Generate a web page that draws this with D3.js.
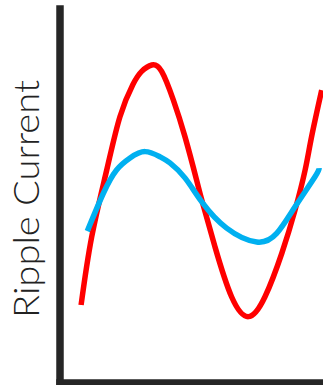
<!DOCTYPE html>
<html>
<head>
<meta charset="utf-8">
<script src="https://cdn.jsdelivr.net/npm/d3@7"></script>
<style>
  html, body { margin: 0; padding: 0; background: #fff; }
  svg { display: block; }
</style>
</head>
<body>
<svg id="chart" width="323" height="385"></svg>
<script>
// Time positions (arbitrary units 0..100) and current values (0..100)
const redT = [6.6, 10.7, 16.5, 21.6, 26.6, 30.0, 33.9, 37.7, 42.2, 46.7, 51.2, 53.2, 58.3, 64.7, 71.2, 77.6, 84.1, 89.2, 93.1, 95.6, 99.5];
const redV = [20.0, 38.2, 56.0, 70.2, 78.8, 82.3, 84.0, 82.3, 74.7, 64.9, 53.3, 48.0, 35.5, 22.2, 16.9, 22.2, 33.8, 45.3, 56.0, 64.9, 77.3];
const blueT = [9.0, 15.2, 20.3, 25.5, 31.3, 37.1, 40.9, 46.7, 53.2, 62.8, 74.4, 82.1, 89.2, 96.9, 98.5];
const blueV = [39.7, 49.8, 56.0, 59.2, 60.9, 59.5, 57.9, 53.9, 47.5, 40.5, 36.8, 39.1, 46.2, 54.2, 56.5];
const yLabel = "Ripple Current";

const svg = d3.select("#chart");
const x = d3.scaleLinear().domain([0, 100]).range([64, 323]);
const y = d3.scaleLinear().domain([0, 100]).range([380, 5]);

const line = d3.line()
  .x(d => x(d[0]))
  .y(d => y(d[1]))
  .curve(d3.curveNatural);

const redData = redT.map((t, i) => [t, redV[i]]);
const blueData = blueT.map((t, i) => [t, blueV[i]]);

svg.append("path")
  .attr("d", line(redData))
  .attr("fill", "none")
  .attr("stroke", "#ff0000")
  .attr("stroke-width", 5.5);

svg.append("path")
  .attr("d", line(blueData))
  .attr("fill", "none")
  .attr("stroke", "#00b0f0")
  .attr("stroke-width", 5.5);

// Axes (no ticks), thick dark lines
const yAxisScale = y.copy().range([382, 8.5]);
const xAxisScale = x.copy().range([59.5, 323]);

const gy = svg.append("g").attr("transform", "translate(59.5,0)")
  .call(d3.axisLeft(yAxisScale).tickValues([]).tickSizeOuter(0));
const gx = svg.append("g").attr("transform", "translate(0,382.5)")
  .call(d3.axisBottom(xAxisScale).tickValues([]).tickSizeOuter(0));

[gy, gx].forEach(g => {
  g.select(".domain")
    .attr("stroke", "#262626")
    .attr("stroke-width", 7.5)
    .attr("stroke-linecap", "square");
});

svg.append("text")
  .attr("transform", "translate(38.5,199) rotate(-90)")
  .attr("text-anchor", "middle")
  .attr("font-family", "Lato, 'Liberation Sans', sans-serif")
  .attr("font-weight", 300)
  .attr("font-size", 36)
  .attr("fill", "#222")
  .attr("textLength", 238)
  .attr("lengthAdjust", "spacingAndGlyphs")
  .text(yLabel);
</script>
</body>
</html>
